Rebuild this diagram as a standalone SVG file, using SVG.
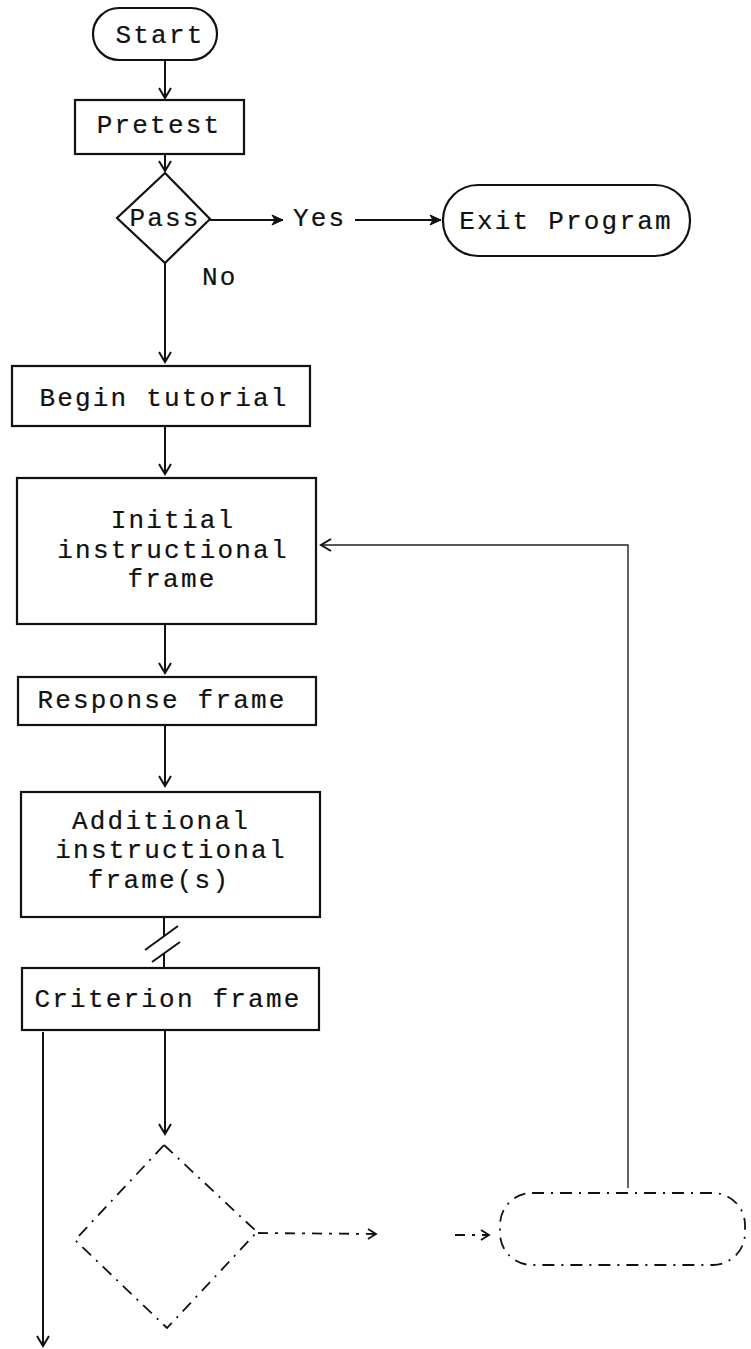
<svg xmlns="http://www.w3.org/2000/svg" width="751" height="1349" viewBox="0 0 751 1349">
<defs>
<style>
.box{fill:none;stroke:#111;stroke-width:2.2}
.dbox{fill:none;stroke:#111;stroke-width:1.8;stroke-dasharray:12 7 2 7}
.ln{fill:none;stroke:#111;stroke-width:2}
.thin{fill:none;stroke:#222;stroke-width:1.4}
.dln{fill:none;stroke:#111;stroke-width:1.8;stroke-dasharray:10 7 3 7}
.t{font-family:"Liberation Mono","Courier New",monospace;font-size:26px;letter-spacing:2.2px;fill:#111;stroke:#111;stroke-width:0.2;text-anchor:middle}
.ts{font-family:"Liberation Mono","Courier New",monospace;font-size:26px;letter-spacing:2.2px;fill:#111;stroke:#111;stroke-width:0.2}
</style>
<marker id="av" markerUnits="userSpaceOnUse" markerWidth="16" markerHeight="16" refX="11" refY="7" orient="auto">
<path d="M1,1 L11,7 L1,13" fill="none" stroke="#111" stroke-width="2"/>
</marker>
<marker id="af" markerUnits="userSpaceOnUse" markerWidth="16" markerHeight="14" refX="12" refY="6" orient="auto">
<path d="M1,1 L12,6 L1,11 L4,6 Z" fill="#111" stroke="#111" stroke-width="1"/>
</marker>
<marker id="ad" markerUnits="userSpaceOnUse" markerWidth="14" markerHeight="14" refX="9" refY="6" orient="auto">
<path d="M1,1 L9,6 L1,11" fill="none" stroke="#111" stroke-width="1.8"/>
</marker>
</defs>
<g id="connectors">
<line class="ln" x1="165" y1="60" x2="165" y2="98" marker-end="url(#av)"/>
<line class="ln" x1="165" y1="154" x2="165" y2="171" marker-end="url(#av)"/>
<line class="ln" x1="210" y1="220" x2="283" y2="220" marker-end="url(#af)"/>
<line class="ln" x1="355" y1="220" x2="441" y2="220" marker-end="url(#af)"/>
<line class="ln" x1="165" y1="263" x2="165" y2="362" marker-end="url(#av)"/>
<line class="ln" x1="165" y1="426" x2="165" y2="474" marker-end="url(#av)"/>
<line class="ln" x1="165" y1="624" x2="165" y2="673" marker-end="url(#av)"/>
<line class="ln" x1="165" y1="725" x2="165" y2="786" marker-end="url(#av)"/>
<line class="ln" x1="164" y1="917" x2="164" y2="936"/>
<line class="ln" x1="164" y1="953" x2="164" y2="968"/>
<line class="ln" x1="145" y1="950" x2="178" y2="926"/>
<line class="ln" x1="152" y1="962" x2="180" y2="942"/>
<line class="ln" x1="165" y1="1030" x2="165" y2="1134" marker-end="url(#av)"/>
<line class="ln" x1="43" y1="1032" x2="43" y2="1346" marker-end="url(#av)"/>
<line class="dln" x1="258" y1="1233" x2="376" y2="1234" marker-end="url(#ad)"/>
<line class="dln" x1="455" y1="1235" x2="489" y2="1235" marker-end="url(#ad)"/>
<polyline class="thin" points="628,1188 628,545 321,545" marker-end="url(#av)"/>
</g>
<g id="start">
<rect class="box" x="93" y="8" width="124" height="52" rx="26"/>
<text class="t" x="160" y="43">Start</text>
</g>
<g id="pretest">
<rect class="box" x="75" y="100" width="169" height="54"/>
<text class="t" x="159" y="133">Pretest</text>
</g>
<g id="pass">
<polygon class="box" points="165,173 210,219 165,263 117,218"/>
<text class="t" x="165" y="226">Pass</text>
</g>
<g id="yes">
<text class="ts" x="293" y="226">Yes</text>
</g>
<g id="no">
<text class="ts" x="202" y="285">No</text>
</g>
<g id="exit">
<rect class="box" x="443" y="185" width="247" height="71" rx="35"/>
<text class="t" x="566" y="229">Exit Program</text>
</g>
<g id="begin">
<rect class="box" x="12" y="366" width="298" height="60"/>
<text class="t" x="164" y="406">Begin tutorial</text>
</g>
<g id="initial">
<rect class="box" x="17" y="478" width="299" height="146"/>
<text class="t" x="173" y="528">Initial</text>
<text class="t" x="173" y="558">instructional</text>
<text class="t" x="172" y="587">frame</text>
</g>
<g id="response">
<rect class="box" x="18" y="677" width="298" height="48"/>
<text class="t" x="162" y="708">Response frame</text>
</g>
<g id="additional">
<rect class="box" x="21" y="792" width="299" height="125"/>
<text class="t" x="161" y="829">Additional</text>
<text class="t" x="171" y="858">instructional</text>
<text class="t" x="159" y="888">frame(s)</text>
</g>
<g id="criterion">
<rect class="box" x="22" y="968" width="297" height="62"/>
<text class="t" x="168" y="1007">Criterion frame</text>
</g>
<g id="decision2">
<polygon class="dbox" points="164,1145 257,1232 167,1328 75,1240"/>
</g>
<g id="terminal2">
<rect class="dbox" x="500" y="1193" width="245" height="72" rx="32"/>
</g>
</svg>
